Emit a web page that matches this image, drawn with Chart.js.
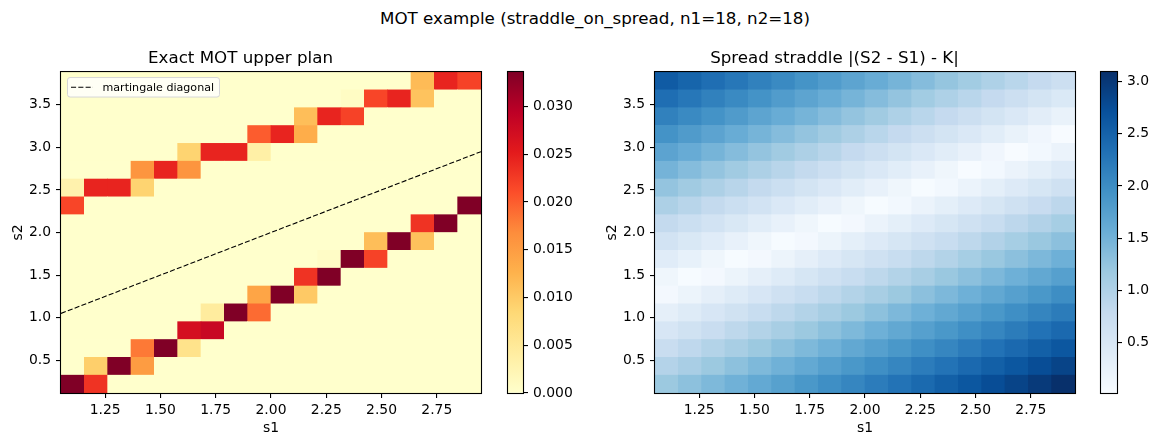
<!DOCTYPE html>
<html><head><meta charset="utf-8">
<script src="https://cdn.jsdelivr.net/npm/chart.js@4.4.1/dist/chart.umd.min.js"></script>
<style>
html,body{margin:0;padding:0;background:#fff;width:1159px;height:446px;overflow:hidden;position:relative;}
canvas{position:absolute;}
#sup{position:absolute;left:0;width:1190px;top:8px;line-height:20px;text-align:center;font-family:'DejaVu Sans',sans-serif;font-size:16.7px;color:#000;white-space:nowrap;}
</style></head><body>
<div id="sup">MOT example (straddle_on_spread, n1=18, n2=18)</div>
<canvas id="cL" width="490" height="416" style="left:0px;top:30px"></canvas>
<canvas id="cbL" width="80" height="416" style="left:500px;top:30px"></canvas>
<canvas id="cR" width="490" height="416" style="left:594px;top:30px"></canvas>
<canvas id="cbR" width="66" height="416" style="left:1093px;top:30px"></canvas>
<script>
// ---- data ----
const s1 = [1.050,1.162,1.274,1.385,1.497,1.609,1.721,1.832,1.944,2.056,2.168,2.279,2.391,2.503,2.615,2.726,2.838,2.950];
const s2 = [0.115,0.337,0.559,0.780,1.002,1.224,1.446,1.668,1.889,2.111,2.333,2.555,2.776,2.998,3.220,3.442,3.663,3.885];
// MOT upper plan, rows = s2 index (bottom to top), columns = s1 index
const planRows = [
  [0.0336,0.0232,0,0,0,0,0,0,0,0,0,0,0,0,0,0,0,0],
  [0,0.0095,0.0336,0.0151,0,0,0,0,0,0,0,0,0,0,0,0,0,0],
  [0,0,0,0.0181,0.0336,0.0063,0,0,0,0,0,0,0,0,0,0,0,0],
  [0,0,0,0,0,0.0269,0.0282,0,0,0,0,0,0,0,0,0,0,0],
  [0,0,0,0,0,0,0.0044,0.0336,0.0191,0,0,0,0,0,0,0,0,0],
  [0,0,0,0,0,0,0,0,0.0141,0.0336,0.0101,0,0,0,0,0,0,0],
  [0,0,0,0,0,0,0,0,0,0,0.0232,0.0336,0,0,0,0,0,0],
  [0,0,0,0,0,0,0,0,0,0,0,0.0006,0.0336,0.0220,0,0,0,0],
  [0,0,0,0,0,0,0,0,0,0,0,0,0,0.0113,0.0336,0.0110,0,0],
  [0,0,0,0,0,0,0,0,0,0,0,0,0,0,0,0.0232,0.0336,0],
  [0.0217,0,0,0,0,0,0,0,0,0,0,0,0,0,0,0,0,0.0336],
  [0.0030,0.0244,0.0244,0.0089,0,0,0,0,0,0,0,0,0,0,0,0,0,0],
  [0,0,0,0.0159,0.0244,0.0159,0,0,0,0,0,0,0,0,0,0,0,0],
  [0,0,0,0,0,0.0089,0.0244,0.0244,0.0036,0,0,0,0,0,0,0,0,0],
  [0,0,0,0,0,0,0,0,0.0201,0.0244,0.0132,0,0,0,0,0,0,0],
  [0,0,0,0,0,0,0,0,0,0,0.0113,0.0244,0.0220,0,0,0,0,0],
  [0,0,0,0,0,0,0,0,0,0,0,0,0.0008,0.0217,0.0244,0.0108,0,0],
  [0,0,0,0,0,0,0,0,0,0,0,0,0,0,0,0.0116,0.0244,0.0220]
];
// spread straddle payoff, rows = s2 index (bottom to top)
const spreadRows = [
  [1.19,1.30,1.41,1.52,1.63,1.74,1.86,1.97,2.08,2.19,2.30,2.41,2.53,2.64,2.75,2.86,2.97,3.09],
  [0.96,1.07,1.19,1.30,1.41,1.52,1.63,1.75,1.86,1.97,2.08,2.19,2.30,2.42,2.53,2.64,2.75,2.86],
  [0.74,0.85,0.97,1.08,1.19,1.30,1.41,1.52,1.64,1.75,1.86,1.97,2.08,2.19,2.31,2.42,2.53,2.64],
  [0.52,0.63,0.74,0.86,0.97,1.08,1.19,1.30,1.41,1.53,1.64,1.75,1.86,1.97,2.08,2.20,2.31,2.42],
  [0.30,0.41,0.52,0.63,0.75,0.86,0.97,1.08,1.19,1.30,1.42,1.53,1.64,1.75,1.86,1.97,2.09,2.20],
  [0.08,0.19,0.30,0.41,0.52,0.64,0.75,0.86,0.97,1.08,1.19,1.31,1.42,1.53,1.64,1.75,1.86,1.98],
  [0.15,0.03,0.08,0.19,0.30,0.41,0.53,0.64,0.75,0.86,0.97,1.08,1.20,1.31,1.42,1.53,1.64,1.75],
  [0.37,0.26,0.14,0.03,0.08,0.19,0.30,0.42,0.53,0.64,0.75,0.86,0.97,1.09,1.20,1.31,1.42,1.53],
  [0.59,0.48,0.37,0.25,0.14,0.03,0.08,0.19,0.31,0.42,0.53,0.64,0.75,0.86,0.98,1.09,1.20,1.31],
  [0.81,0.70,0.59,0.48,0.36,0.25,0.14,0.03,0.08,0.20,0.31,0.42,0.53,0.64,0.75,0.87,0.98,1.09],
  [1.03,0.92,0.81,0.70,0.59,0.47,0.36,0.25,0.14,0.03,0.09,0.20,0.31,0.42,0.53,0.64,0.76,0.87],
  [1.25,1.14,1.03,0.92,0.81,0.70,0.58,0.47,0.36,0.25,0.14,0.03,0.09,0.20,0.31,0.42,0.53,0.65],
  [1.48,1.36,1.25,1.14,1.03,0.92,0.81,0.69,0.58,0.47,0.36,0.25,0.14,0.02,0.09,0.20,0.31,0.42],
  [1.70,1.59,1.47,1.36,1.25,1.14,1.03,0.92,0.80,0.69,0.58,0.47,0.36,0.25,0.13,0.02,0.09,0.20],
  [1.92,1.81,1.70,1.58,1.47,1.36,1.25,1.14,1.03,0.91,0.80,0.69,0.58,0.47,0.36,0.24,0.13,0.02],
  [2.14,2.03,1.92,1.81,1.69,1.58,1.47,1.36,1.25,1.14,1.02,0.91,0.80,0.69,0.58,0.47,0.35,0.24],
  [2.36,2.25,2.14,2.03,1.92,1.80,1.69,1.58,1.47,1.36,1.25,1.13,1.02,0.91,0.80,0.69,0.58,0.46],
  [2.59,2.47,2.36,2.25,2.14,2.03,1.91,1.80,1.69,1.58,1.47,1.36,1.24,1.13,1.02,0.91,0.80,0.69]
];
const xTicks = [1.25,1.50,1.75,2.00,2.25,2.50,2.75];
const yTicks = [0.5,1.0,1.5,2.0,2.5,3.0,3.5];
const planTicks = [0.000,0.005,0.010,0.015,0.020,0.025,0.030];
const spreadTicks = [0.5,1.0,1.5,2.0,2.5,3.0];
const titles = {left:'Exact MOT upper plan', right:'Spread straddle |(S2 - S1) - K|', x:'s1', y:'s2', diag:'martingale diagonal'};

// ---- colormaps ----
const YLORRD = ['#ffffcc','#ffeda0','#fed976','#feb24c','#fd8d3c','#fc4e2a','#e31a1c','#bd0026','#800026'];
const BLUES  = ['#f7fbff','#deebf7','#c6dbef','#9ecae1','#6baed6','#4292c6','#2171b5','#08519c','#08306b'];
function hex(c){return [parseInt(c.slice(1,3),16),parseInt(c.slice(3,5),16),parseInt(c.slice(5,7),16)];}
function cmap(stops,t){
  t=Math.max(0,Math.min(1,t));
  const n=stops.length-1, p=t*n, k=Math.min(Math.floor(p),n-1), f=p-k;
  const a=hex(stops[k]), b=hex(stops[k+1]);
  return 'rgb('+a.map((v,i)=>Math.round(v+(b[i]-v)*f)).join(',')+')';
}

const FONT = "'DejaVu Sans', sans-serif";
const tickFont = {family:FONT,size:13.9};
const flat = a => a.reduce((m,r)=>m.concat(r),[]);
const x0 = Math.min(...s1), x1 = Math.max(...s1), y0 = Math.min(...s2), y1 = Math.max(...s2);

function heatDatasets(rows, stops, vmin, vmax){
  const nx = s1.length, ny = s2.length, dx=(x1-x0)/nx, dy=(y1-y0)/ny;
  return rows.map((row,j)=>({
    type:'bar', order:2,
    data: row.map((v,i)=>({x:x0+(i+0.5)*dx, y:[y0+j*dy, y0+(j+1)*dy]})),
    backgroundColor: row.map(v=>cmap(stops,(v-vmin)/(vmax-vmin))),
    borderWidth:0, barPercentage:1, categoryPercentage:1, grouped:false
  }));
}

const frame = {id:'frame', afterDatasetsDraw(chart){
  const {ctx, chartArea:a} = chart;
  ctx.save(); ctx.strokeStyle='#000'; ctx.lineWidth=1.1;
  ctx.strokeRect(a.left-0.5, a.top-0.5, a.right-a.left+1, a.bottom-a.top+1);
  ctx.restore();
}};

const legendBox = {id:'legendBox', afterDatasetsDraw(chart){
  const ds = chart.data.datasets.find(d=>d.type==='line');
  if(!ds) return;
  const {ctx, chartArea:a} = chart;
  const x=a.left+6.5, y=a.top+5.5, w=152, h=19.5, r=2.5;
  ctx.save();
  ctx.beginPath();
  ctx.moveTo(x+r,y); ctx.lineTo(x+w-r,y); ctx.arcTo(x+w,y,x+w,y+r,r);
  ctx.lineTo(x+w,y+h-r); ctx.arcTo(x+w,y+h,x+w-r,y+h,r);
  ctx.lineTo(x+r,y+h); ctx.arcTo(x,y+h,x,y+h-r,r);
  ctx.lineTo(x,y+r); ctx.arcTo(x,y,x+r,y,r); ctx.closePath();
  ctx.fillStyle='rgba(255,255,255,0.8)'; ctx.fill();
  ctx.strokeStyle='#d6d6d6'; ctx.lineWidth=1; ctx.stroke();
  ctx.beginPath(); ctx.setLineDash(ds.borderDash); ctx.strokeStyle='#000'; ctx.lineWidth=ds.borderWidth;
  ctx.moveTo(x+3.5,y+h/2); ctx.lineTo(x+25.5,y+h/2); ctx.stroke(); ctx.setLineDash([]);
  ctx.fillStyle='#000'; ctx.font='11.1px '+FONT; ctx.textBaseline='middle'; ctx.textAlign='left';
  ctx.fillText(ds.label, x+35, y+h/2+0.5);
  ctx.restore();
}};

function axisCommon(){
  return {
    offset:false, beginAtZero:false,
    grid:{display:true, drawOnChartArea:false, drawTicks:true, tickLength:5, color:'#000', lineWidth:1.1, offset:false},
    border:{display:false},
  };
}

function heatmap(id, title, rows, stops, vmin, vmax, withDiag){
  const datasets = heatDatasets(rows, stops, vmin, vmax);
  if(withDiag){
    datasets.push({type:'line', order:0, label:titles.diag, data:[{x:x0,y:x0},{x:x1,y:x1}],
      borderColor:'#000', borderWidth:1.1, borderDash:[5.1,2.2], pointRadius:0, fill:false, tension:0});
  }
  new Chart(document.getElementById(id), {
    type:'bar',
    data:{datasets},
    options:{
      responsive:false, animation:false, devicePixelRatio:1,
      layout:{padding:{left:0,right:9,top:0,bottom:0}},
      plugins:{
        legend:{display:false}, tooltip:{enabled:false},
        title:{display:true, text:title, color:'#000', font:{family:FONT,size:16.7,weight:'normal'}, padding:{top:18.5,bottom:3.5}}
      },
      scales:{
        x:Object.assign(axisCommon(), {type:'linear', position:'bottom', min:x0, max:x1,
          ticks:{font:tickFont, color:'#000', padding:4, maxRotation:0, autoSkip:false, callback:v=>v.toFixed(2)},
          afterBuildTicks:s=>{s.ticks=xTicks.map(v=>({value:v}));},
          afterFit:s=>{s.height=53;},
          title:{display:true, text:titles.x, color:'#000', font:tickFont, padding:{top:0,bottom:9.5}}}),
        y:Object.assign(axisCommon(), {type:'linear', position:'left', min:y0, max:y1,
          ticks:{font:tickFont, color:'#000', padding:5, autoSkip:false, callback:v=>v.toFixed(1)},
          afterBuildTicks:s=>{s.ticks=yTicks.map(v=>({value:v}));},
          afterFit:s=>{s.width=61;},
          title:{display:true, text:titles.y, color:'#000', font:tickFont, padding:{top:10,bottom:0}}})
      }
    },
    plugins:[frame, legendBox]
  });
}

function colorbar(id, stops, vmin, vmax, ticks, digits, axisW){
  new Chart(document.getElementById(id), {
    type:'bar',
    data:{labels:[''], datasets:[{data:[[vmin,vmax]], borderWidth:0, barPercentage:1, categoryPercentage:1,
      backgroundColor:(c)=>{
        const ch=c.chart, a=ch.chartArea; if(!a) return stops[0];
        const g=ch.ctx.createLinearGradient(0,a.bottom,0,a.top);
        stops.forEach((s,k)=>g.addColorStop(k/(stops.length-1), s));
        return g;
      }}]},
    options:{
      responsive:false, animation:false, devicePixelRatio:1,
      layout:{padding:{left:8,right:0,top:42,bottom:53}},
      plugins:{legend:{display:false}, tooltip:{enabled:false}},
      scales:{
        x:{display:false},
        y:Object.assign(axisCommon(), {type:'linear', position:'right', min:vmin, max:vmax,
          ticks:{font:tickFont, color:'#000', padding:5, autoSkip:false, callback:v=>v.toFixed(digits)},
          afterBuildTicks:s=>{s.ticks=ticks.map(v=>({value:v}));},
          afterFit:s=>{s.width=axisW;}})
      }
    },
    plugins:[frame]
  });
}

const pMin = Math.min(...flat(planRows)), pMax = Math.max(...flat(planRows));
const sMin = Math.min(...flat(spreadRows)), sMax = Math.max(...flat(spreadRows));
heatmap('cL', titles.left, planRows, YLORRD, pMin, pMax, true);
colorbar('cbL', YLORRD, pMin, pMax, planTicks, 3, 57);
heatmap('cR', titles.right, spreadRows, BLUES, sMin, sMax, false);
colorbar('cbR', BLUES, sMin, sMax, spreadTicks, 1, 42);
</script>
</body></html>
